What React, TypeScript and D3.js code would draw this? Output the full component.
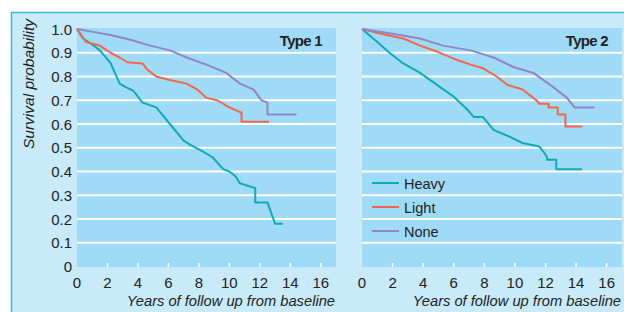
import React from 'react';
import * as d3 from 'd3';

type Pt = [number, number];

// Type 1 curves (years, survival probability)
const type1Heavy: Pt[] = [
  [0, 1], [0.4, 0.96], [1.0, 0.935], [1.5, 0.91], [2.2, 0.857], [2.8, 0.77], [3.2, 0.755], [3.7, 0.74],
  [4.3, 0.69], [5.2, 0.67], [6.1, 0.6], [7.0, 0.53], [7.5, 0.51], [8.1, 0.49], [8.9, 0.46],
  [9.6, 0.41], [10.0, 0.4], [10.4, 0.38], [10.7, 0.35], [11.2, 0.34], [11.7, 0.33], [11.7, 0.27],
  [12.5, 0.27], [13.0, 0.18], [13.5, 0.18],
];
const type1Light: Pt[] = [
  [0, 1], [0.6, 0.945], [1.5, 0.93], [2.2, 0.9], [2.8, 0.88], [3.3, 0.86], [4.3, 0.855], [4.6, 0.83],
  [5.2, 0.8], [6.1, 0.785], [7.2, 0.77], [7.9, 0.745], [8.5, 0.71], [9.2, 0.7], [10.0, 0.67],
  [10.7, 0.65], [10.8, 0.65], [10.8, 0.61], [12.6, 0.61],
];
const type1None: Pt[] = [
  [0, 1], [0.85, 0.99], [2.2, 0.975], [3.5, 0.955], [4.8, 0.93], [6.1, 0.91], [7.2, 0.88], [8.5, 0.85],
  [9.8, 0.815], [10.7, 0.77], [11.6, 0.745], [12.1, 0.7], [12.5, 0.69], [12.5, 0.64], [14.4, 0.64],
];

// Type 2 curves
const type2Heavy: Pt[] = [
  [0, 1], [1.0, 0.945], [1.8, 0.9], [2.7, 0.855], [3.8, 0.815], [4.9, 0.765], [6.0, 0.715], [6.9, 0.66],
  [7.3, 0.63], [7.9, 0.63], [8.6, 0.575], [9.7, 0.545], [10.5, 0.52], [11.6, 0.505], [11.9, 0.48],
  [12.1, 0.46], [12.1, 0.45], [12.7, 0.45], [12.7, 0.41], [14.4, 0.41],
];
const type2Light: Pt[] = [
  [0, 1], [1.6, 0.975], [2.7, 0.96], [3.8, 0.93], [4.9, 0.905], [6.0, 0.875], [7.1, 0.85], [7.9, 0.835],
  [8.8, 0.8], [9.5, 0.765], [10.5, 0.745], [11.4, 0.7], [11.6, 0.685], [12.2, 0.685], [12.2, 0.67],
  [12.8, 0.67], [12.8, 0.64], [13.3, 0.64], [13.3, 0.59], [14.4, 0.59],
];
const type2None: Pt[] = [
  [0, 1], [2.0, 0.98], [3.8, 0.96], [5.3, 0.93], [7.1, 0.91], [8.6, 0.88], [9.9, 0.84], [11.2, 0.815],
  [12.3, 0.765], [13.4, 0.71], [13.9, 0.67], [15.2, 0.67],
];

const groups = ['Heavy', 'Light', 'None'];
const colors = ['#12a9b8', '#f2664b', '#9384c9'];
const yTicks = [0, 0.1, 0.2, 0.3, 0.4, 0.5, 0.6, 0.7, 0.8, 0.9, 1.0];
const xTicks = [0, 2, 4, 6, 8, 10, 12, 14, 16];

const W = 624;
const H = 312;
const font = 'Liberation Sans, Arial, sans-serif';

function Panel({ x0, x1, title, series, showLegend }: {
  x0: number; x1: number; title: string; series: Pt[][]; showLegend: boolean;
}) {
  const x = d3.scaleLinear().domain([0, 17]).range([x0, x1]);
  const y = d3.scaleLinear().domain([0, 1]).range([266.5, 29]);
  const line = d3.line<Pt>().x((d) => x(d[0])).y((d) => y(d[1]));
  return (
    <g>
      <rect x={x0} y={28} width={x1 - x0} height={239} fill="#9fdbf6" />
      {yTicks.filter((t) => t > 0 && t < 1).map((t) => (
        <line key={t} x1={x0} x2={x1} y1={y(t)} y2={y(t)} stroke="#fff" strokeWidth={2} />
      ))}
      {xTicks.filter((t) => t > 0).map((t) => (
        <line key={t} x1={x(t)} x2={x(t)} y1={263} y2={267} stroke="#fff" strokeWidth={1.5} />
      ))}
      {xTicks.map((t) => (
        <text key={t} x={x(t)} y={287.5} textAnchor="middle" fontSize={15} fill="#222">{t}</text>
      ))}
      <text x={x1 - 1} y={306} textAnchor="end" fontSize={14.7} fontStyle="italic" fill="#222">
        Years of follow up from baseline
      </text>
      {series.map((s, i) => (
        <path key={i} d={line(s) ?? ''} fill="none" stroke={colors[i]} strokeWidth={2} strokeLinejoin="round" />
      ))}
      <text x={x1 - 14} y={46} textAnchor="end" fontSize={15} fontWeight="bold" letterSpacing={-0.7} fill="#222">
        {title}
      </text>
      {showLegend && groups.map((g, i) => (
        <g key={g}>
          <line x1={x0 + 10} x2={x0 + 37} y1={183 + i * 24} y2={183 + i * 24} stroke={colors[i]} strokeWidth={2} />
          <text x={x0 + 42} y={188.5 + i * 24} fontSize={14.5} fill="#222">{g}</text>
        </g>
      ))}
    </g>
  );
}

export default function App() {
  const y = d3.scaleLinear().domain([0, 1]).range([266.5, 29]);
  return (
    <svg width={W} height={H} style={{ position: 'absolute', left: 0, top: 0 }} fontFamily={font}>
      <rect x={0} y={0} width={W} height={H} fill="#fff" />
      <rect x={11} y={12} width={W - 11} height={H - 12} fill="#c8eaf9" />
      <line x1={11} x2={W} y1={12.5} y2={12.5} stroke="#38b6e6" strokeWidth={1.5} />
      <line x1={11.5} x2={11.5} y1={12} y2={H} stroke="#38b6e6" strokeWidth={1.5} />
      {yTicks.map((t) => (
        <text key={t} x={72} y={y(t) + 5.5} textAnchor="end" fontSize={15} fill="#222">
          {t === 0 ? '0' : t.toFixed(1)}
        </text>
      ))}
      <text transform="translate(34,84) rotate(-90)" textAnchor="middle" fontSize={15.5} fontStyle="italic" fill="#222">
        Survival probability
      </text>
      <Panel x0={77} x1={336} title="Type 1" series={[type1Heavy, type1Light, type1None]} showLegend={false} />
      <Panel x0={362} x1={622} title="Type 2" series={[type2Heavy, type2Light, type2None]} showLegend={true} />
    </svg>
  );
}
